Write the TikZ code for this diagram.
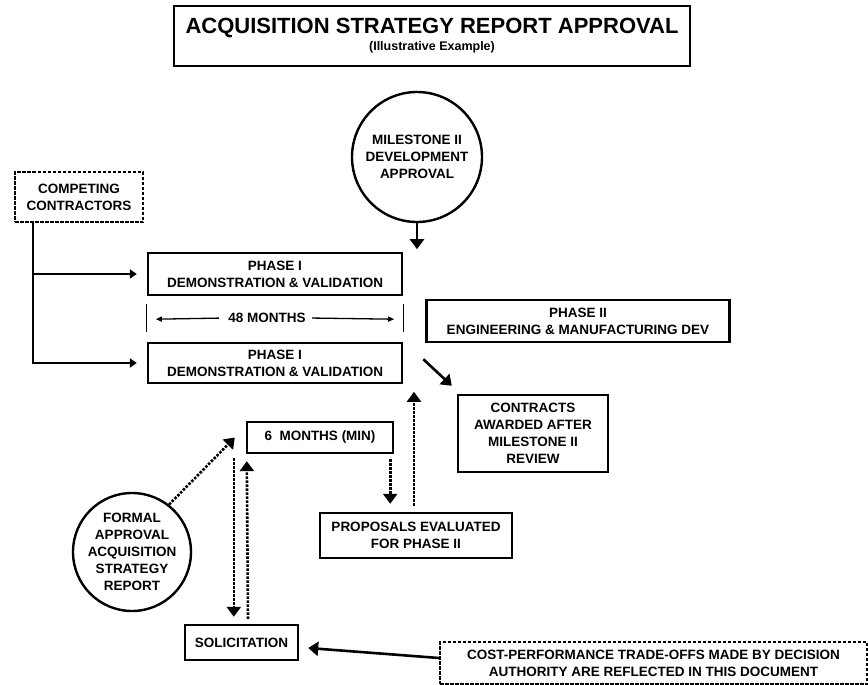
\documentclass[tikz,border=0pt]{standalone}
\usepackage{fontspec}
\setmainfont{Liberation Sans}
\usetikzlibrary{arrows.meta,positioning,calc,shapes.geometric}

\begin{document}
\begin{tikzpicture}[
    x=1pt, y=-1pt,
    font=\bfseries\fontsize{13.5}{17}\selectfont,
    box/.style={rectangle, draw, line width=2.4pt, inner sep=0pt, align=center},
    dashbox/.style={box, line width=2pt, dash pattern=on 3.5pt off 1.5pt},
    circ/.style={circle, draw, line width=2.4pt, inner sep=-6pt, align=center},
    arrow/.style={-{Triangle[width=14pt,length=10pt]}, line width=2.6pt},
    smallarrow/.style={-{Triangle[width=9pt,length=7pt]}, line width=2pt},
    dotarrow/.style={arrow, dash pattern=on 2.5pt off 1.5pt},
    thinarrow/.style={-{Triangle[width=5pt,length=6pt]}, line width=1.3pt},
    bar/.style={line width=1.3pt}
]
    \useasboundingbox (0,0) rectangle (868,685);

    % --- 1. Title ---
    \node[box, minimum width=516, minimum height=60] (title) at (432,36)
        {\fontsize{22}{24}\selectfont ACQUISITION STRATEGY REPORT APPROVAL\\[0pt]
         {\fontsize{12.5}{14}\selectfont (Illustrative Example)}};

    % --- 2. Nodes ---
    \node[circ, minimum size=130] (ms) at (417,157) {MILESTONE II\\DEVELOPMENT\\APPROVAL};
    \node[dashbox, minimum width=128, minimum height=50] (comp) at (79,197) {COMPETING\\CONTRACTORS};

    \node[box, minimum width=254, minimum height=42] (pha) at (275,274) {PHASE I\\DEMONSTRATION \& VALIDATION};
    \node[box, minimum width=254, minimum height=40] (phb) at (275,363) {PHASE I\\DEMONSTRATION \& VALIDATION};
    \node (mon) at (267,318) {48 MONTHS};

    \node[box, minimum width=303, minimum height=42] (phii) at (578,321) {PHASE II\\ENGINEERING \& MANUFACTURING DEV};
    \node[box, minimum width=150, minimum height=77] (contr) at (533,433.5) {CONTRACTS\\AWARDED AFTER\\MILESTONE II\\REVIEW};

    \node[box, minimum width=146, minimum height=31] (six) at (320,437.5) {6 \ MONTHS (MIN)};
    \node[box, minimum width=192, minimum height=45] (prop) at (416,535.5) {PROPOSALS EVALUATED\\FOR PHASE II};

    \node[circ, minimum size=118] (formal) at (132,552) {FORMAL\\APPROVAL\\ACQUISITION\\STRATEGY\\REPORT};
    \node[box, minimum width=113, minimum height=35] (solic) at (241.5,642.5) {SOLICITATION};
    \node[dashbox, minimum width=427, minimum height=42] (cost) at (653.5,663)
        {COST-PERFORMANCE TRADE-OFFS MADE BY DECISION\\AUTHORITY ARE REFLECTED IN THIS DOCUMENT};

    % --- 3. Spacers ---
    \coordinate (trunk) at ($(comp.south west)+(19,0)$);
    \coordinate (msend) at ($(ms.south)+(0,26)$);
    \coordinate (dgs) at ($(phii.south west)+(-2,16)$);
    \coordinate (dge) at ($(contr.north west)+(-5,-8)$);
    \coordinate (sixdn) at ($(six.south east)+(-4,5)$);
    \coordinate (vl) at ($(six.south west)+(-12,4)$);

    % --- 4. Connections ---
    \draw[arrow] (ms.south) -- (msend);
    \draw[smallarrow] (trunk) |- ([xshift=-10pt]phb.west);
    \draw[smallarrow] (trunk |- pha.west) -- ([xshift=-10pt]pha.west);

    % 48 months span
    \draw[bar] ($(pha.south west)+(0,8)$) -- ($(phb.north west)+(0,-10)$);
    \draw[bar] ($(pha.south east)+(0,8)$) -- ($(phb.north east)+(0,-10)$);
    \draw[thinarrow, shorten <=6pt] (mon.west) -- ($(pha.south west)+(9,23)$);
    \draw[thinarrow, shorten <=3pt] (mon.east) -- ($(pha.south east)+(-9,23)$);

    \draw[arrow] (dgs) -- (dge);

    % dotted flow
    \draw[dotarrow] ($(prop.north)+(-2,-6)$) -- ++(0,-114);
    \draw[dotarrow, shorten >=8pt] (sixdn) -- (sixdn |- prop.north);
    \draw[dotarrow] (formal.52) -- ([xshift=-11pt]six.west);
    \draw[dotarrow, shorten >=7pt] (vl) -- (vl |- solic.north);
    \draw[dotarrow] ($(solic.north)+(6.5,-5)$) -- ($(six.south west)+(1,7)$);

    \draw[arrow] ([yshift=5pt]cost.west) -- ([xshift=9pt,yshift=-5.5pt]solic.east);

\end{tikzpicture}
\end{document}
